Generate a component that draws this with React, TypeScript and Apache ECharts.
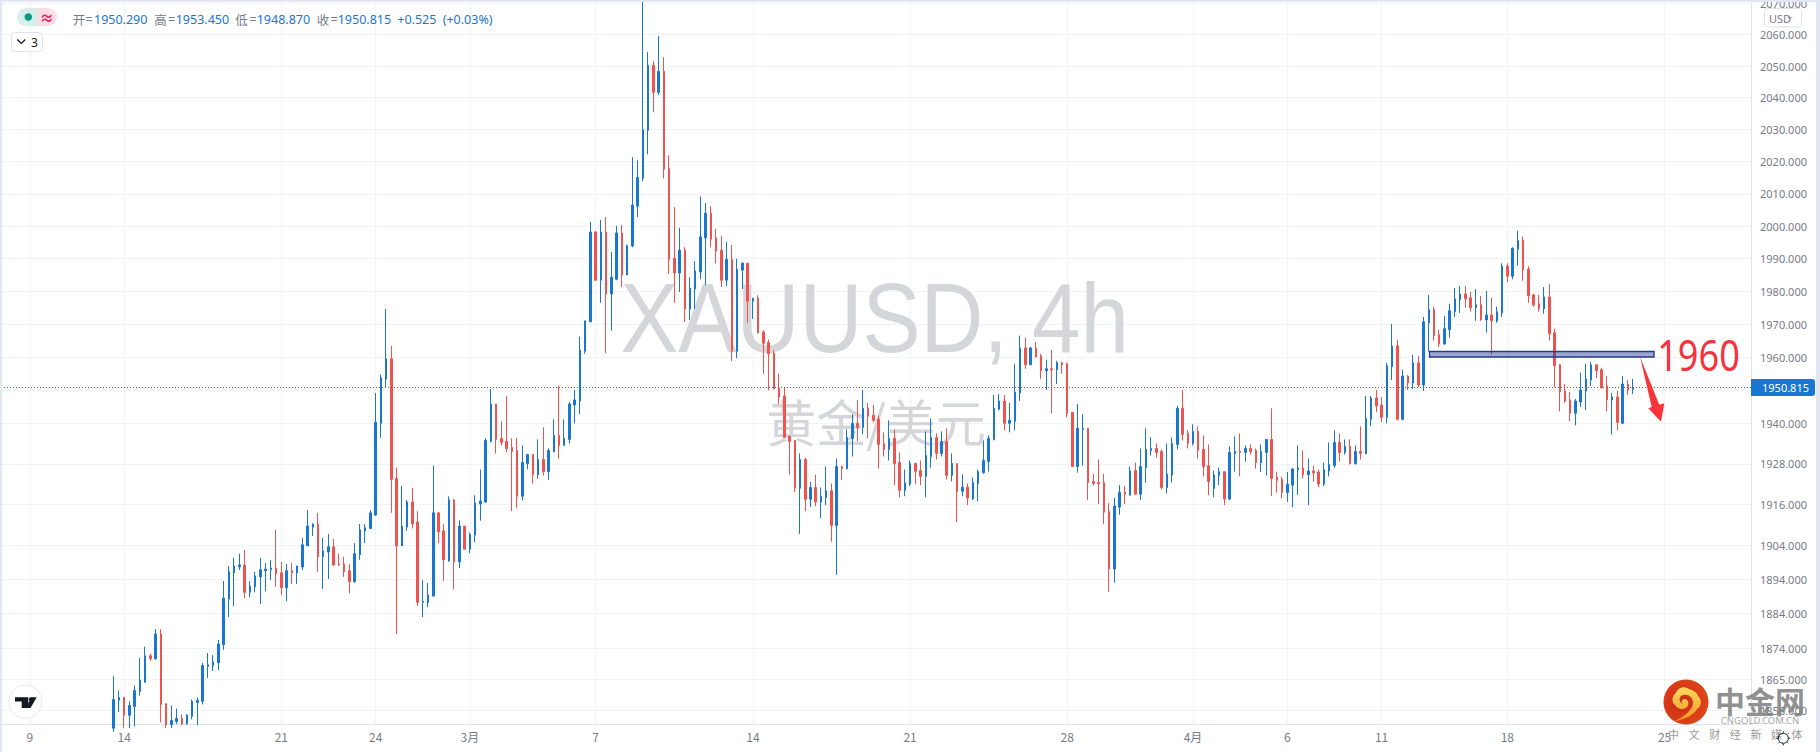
import React, { useEffect, useRef } from "react";
import * as echarts from "echarts";

// [open, close, low, high]
const candles: number[][] = [
[1851,1859.2,1850,1865.9],[1859,1859.8,1855.6,1861.8],[1859.8,1854.7,1851,1860],[1854.7,1857.5,1851,1858.7],[1857.2,1861.8,1851.5,1863.2],
[1861.5,1864.8,1860.3,1871.2],[1864.2,1871.8,1864,1874.4],[1871.8,1870.9,1870.4,1872.4],[1870.9,1878.1,1870.6,1879.5],[1878.1,1857.8,1852.7,1879.5],
[1858,1852,1851,1858],[1852,1853.2,1851,1857.5],[1852.9,1853.8,1852.2,1856.6],[1853.8,1852.3,1851.9,1855],[1852.3,1854.7,1851.9,1855],
[1854.4,1858.7,1853.5,1859.2],[1858.4,1859,1851.9,1859.8],[1858.7,1869,1857.8,1869.7],[1868.7,1869.2,1865.4,1872.6],[1869,1870,1867.4,1872],
[1869.8,1875.2,1867.7,1876.4],[1875,1888.5,1873.5,1893.5],[1888.2,1896.2,1883,1897.9],[1895.9,1897.9,1886.2,1900.3],[1897.6,1898.2,1896.7,1901.5],
[1898.2,1890.2,1888.5,1902.6],[1890.2,1892,1888.8,1893.5],[1891.8,1895,1890.2,1896.2],[1894.7,1896.8,1886.8,1900.3],[1896.5,1897,1890.5,1898.8],
[1896.8,1897.3,1893.8,1899.7],[1897.3,1895.6,1891.8,1908.5],[1895.9,1891.5,1889.5,1899.1],[1891.5,1896.5,1887.6,1898.5],[1896.5,1895.9,1892.6,1898.8],
[1895.9,1897.9,1892.6,1897.9],[1897.6,1904.1,1896.7,1906.1],[1903.8,1909.6,1903.8,1914.3],[1909.3,1910.2,1906.7,1910.4],[1910.2,1900.6,1896.2,1913.5],
[1900.6,1902.3,1891.2,1906.1],[1902,1903.5,1894.1,1907.3],[1903.5,1898.2,1897.9,1905.8],[1898.5,1898.2,1897.9,1901.5],[1898.5,1896.2,1894.7,1900.6],
[1896.5,1893.3,1889.9,1898.5],[1893.3,1901.5,1893,1904.6],[1901.2,1908.5,1899.7,1910.2],[1908.2,1909.1,1904.6,1910.2],[1908.9,1913.5,1908.9,1914.3],
[1912.9,1940.4,1912.6,1949.2],[1940.1,1953.8,1935.8,1954.7],[1953.4,1959.5,1950.9,1974.6],[1959.5,1923.4,1913.5,1963.4],[1923.7,1903.8,1878.1,1926.9],
[1903.8,1909.6,1903.8,1921.5],[1909.3,1916.7,1908.2,1917.3],[1916.7,1910.2,1908.9,1920.9],[1910.8,1887.3,1886.2,1914],[1887.3,1887.6,1883,1893.8],
[1887.3,1889.4,1885.9,1892.9],[1889.1,1913.5,1889.1,1927.5],[1913.5,1907.9,1904.6,1913.8],[1908.2,1899.7,1893.5,1910.2],[1899.4,1917.3,1899.1,1918.4],
[1917.3,1899.1,1891,1917.6],[1899.1,1909.6,1897.3,1911.3],[1909.6,1902.8,1902.8,1909.6],[1902.8,1907.1,1901.6,1907.7],[1907,1916.4,1904.9,1918.7],
[1916.1,1917,1911.2,1926.3],[1916.7,1935,1916.4,1935.6],[1934.7,1945.9,1934.4,1950.4],[1945.9,1935.3,1931.1,1945.9],[1935.6,1934.4,1933.5,1940.7],
[1934.7,1932.6,1931.4,1948.3],[1932.9,1931.7,1914,1935.6],[1932,1918.4,1914.9,1935.6],[1918.4,1928.4,1917.2,1933.5],[1928.1,1930.8,1926.4,1930.8],
[1930.8,1924.8,1922.2,1930.8],[1924.8,1929.3,1923.6,1935.3],[1929.3,1925.7,1924.6,1938.9],[1925.7,1932,1923.3,1932.6],[1931.7,1936.5,1931.4,1941.3],
[1936.5,1933.5,1929.6,1951.3],[1933.5,1935.6,1933.5,1941.3],[1935.3,1945.9,1934.1,1946.5],[1945.6,1947.1,1940.1,1950.1],[1946.8,1962.2,1942.8,1966.2],
[1961.8,1971,1961,1971],[1970.7,1998.2,1970.7,2001.3],[1998.2,1983.4,1983.4,1998.5],[1983.4,1998.2,1976.5,2001.9],[1998.2,1979.2,1961.2,2002.8],
[1979.2,1984.3,1968,1992],[1983.7,1997.9,1983.4,2000.1],[1997.9,1985,1981.3,2000.4],[1985,1994,1985,1994.3],[1993.9,2006.5,1993.5,2021.4],
[2006.2,2015.1,2002.8,2020.4],[2014.8,2030,2013.9,2071],[2029.8,2050.2,2022.3,2054.4],[2050.2,2041.7,2035.4,2051.5],[2041.7,2048.3,2040.8,2059.5],
[2048.3,2017.6,2014.8,2052.8],[2017.9,1989.8,1985.3,2022],[1990.1,1985.6,1976.5,2005.9],[1985.6,1992.6,1979.8,1999.5],[1992.6,1974.6,1970.7,1993.5],
[1974.6,1981,1971.3,1984.3],[1980.7,1986.2,1974.6,1989.2],[1985.9,1996.7,1983.7,2009.2],[1996.4,2004,1981.9,2007.1],[2004,1996,1993.5,2006.2],
[1996.4,1992.3,1988.5,1999.2],[1992.6,1983.4,1981.3,1997],[1983.4,1989.8,1981.6,1995.1],[1989.8,1961.8,1958.8,1994.2],[1961.8,1986.8,1959.7,1990],
[1986.5,1988.6,1980.7,1988.9],[1988.6,1977,1970.4,1988.6],[1977,1977.9,1971.6,1977.9],[1977.9,1967.3,1967.3,1978.8],[1967.6,1964.2,1955,1968.2],
[1964.4,1961,1950,1965.3],[1961.2,1950.4,1950.4,1962.1],[1950.7,1948,1945.9,1955],[1948.3,1935.9,1935.9,1950.7],[1936.2,1934.7,1924.8,1936.5],
[1935,1920.8,1919.6,1935],[1920.8,1929.3,1907.3,1931.1],[1929.3,1917.5,1914,1929.9],[1917.5,1921,1915.2,1922.7],[1921,1916.7,1915.5,1924.8],
[1916.7,1918.4,1911.9,1921],[1918,1920,1915.8,1927.2],[1920,1909.8,1905,1922.2],[1909.8,1927.2,1895.3,1929.6],[1927.2,1926.6,1923.3,1927.5],
[1926.6,1935.9,1926.4,1938.3],[1935.6,1940.1,1930.2,1942.8],[1940.1,1938.9,1934.7,1947.1],[1938.9,1944.6,1936.8,1950.1],[1944.6,1942.2,1935.6,1946.2],
[1942.5,1941,1940.4,1945.6],[1941.3,1933.8,1926.6,1942.4],[1934.1,1932.3,1930.2,1937.4],[1932.3,1935.6,1929,1941],[1935.6,1928.1,1921.7,1938.3],
[1928.4,1920.2,1918.1,1931.4],[1920.2,1922.3,1918.4,1926.3],[1922,1928.1,1921.4,1929],[1928.1,1925.8,1922,1928.4],[1926,1924.3,1921.7,1929],
[1924.3,1930.5,1918.1,1937.7],[1930.2,1935.9,1926.9,1941.6],[1935.9,1931.1,1929.3,1937.1],[1931.1,1934.7,1930.2,1937.7],[1934.7,1924.6,1923.4,1938.6],
[1924.6,1928.1,1922.8,1931.1],[1928.1,1919.9,1910.8,1928.1],[1919.9,1921.1,1918.4,1924.9],[1921.1,1917.9,1915.8,1922.2],[1917.6,1922.5,1917.3,1924],
[1922.2,1925.7,1916.9,1926.3],[1925.4,1929,1925.1,1935],[1928.7,1935.6,1925.7,1936.5],[1935.3,1944.6,1935,1948.6],[1944.3,1946.8,1944,1948.9],
[1946.8,1940.1,1938,1948.6],[1940.1,1941,1937.4,1946.2],[1940.7,1949.5,1938,1958],[1949.2,1962.8,1946.8,1966.5],[1962.8,1957.7,1956.5,1965.9],
[1957.7,1962.8,1957.7,1963.1],[1962.8,1960.1,1959.8,1964.6],[1960.4,1955.9,1953.4,1961],[1955.9,1956.5,1950.1,1959.2],[1956.5,1956.2,1943.1,1962.2],
[1956.2,1958.3,1951.9,1958.9],[1958.3,1957.7,1955,1958.6],[1958,1943.1,1941.9,1958.3],[1943.4,1927.2,1927.2,1943.4],[1927.2,1938.6,1925.4,1945.9],
[1938.3,1938.6,1927.5,1942.8],[1938.6,1922.5,1917.3,1938.6],[1922.8,1922.2,1921.6,1925],[1922.5,1922.2,1916.1,1929.3],[1922.5,1913.7,1910.2,1925],
[1913.9,1897,1890.3,1916.4],[1897,1915.5,1893,1917.9],[1915.2,1919.6,1912.9,1921.7],[1919.6,1919,1916.1,1921.4],[1918.7,1926,1918.7,1927.2],
[1926,1919,1919,1928.4],[1919,1927.2,1917.3,1932.6],[1926.9,1932.3,1922.4,1938.6],[1932,1932.6,1930.5,1935.9],[1932.6,1931.4,1929.9,1934.1],
[1931.7,1921,1920.4,1932.3],[1921,1925,1919.2,1934.1],[1924.7,1934.1,1922.4,1935.9],[1933.8,1944.6,1932.3,1945.3],[1944.6,1936.8,1935,1950.1],
[1937.1,1934.1,1932.6,1938],[1934.1,1937.7,1933.5,1939.8],[1937.7,1932,1929.6,1939.2],[1932.3,1927.2,1924.3,1936.5],[1927.5,1922.8,1918.7,1933.8],
[1920.7,1924.7,1918.1,1926],[1924.6,1925.7,1921.7,1926.9],[1925.7,1917.6,1915.8,1925.7],[1917.6,1931.4,1917.3,1933.2],[1931.1,1931.7,1925.7,1936.2],
[1931.7,1931.4,1924.3,1937.1],[1931.4,1932.6,1928.7,1933.5],[1932.6,1931.7,1930.8,1933.8],[1932,1928.4,1926.6,1932.6],[1928.4,1931.7,1925.6,1933.8],
[1931.4,1935.3,1924.5,1935.3],[1935.3,1923.7,1918.5,1944.6],[1924,1923.1,1919.5,1925.7],[1923.4,1919.5,1917.8,1924.2],[1919.5,1922,1916.7,1925.6],
[1921.7,1926.5,1915.2,1926.8],[1926.3,1926.8,1918.8,1933.5],[1926.8,1924.8,1923.7,1932],[1924.8,1925.9,1915.8,1929.6],[1925.9,1925.3,1922.7,1927.5],
[1925.6,1922,1921.1,1926.3],[1922,1926.3,1921.4,1928.4],[1925.9,1927.8,1924.3,1934.4],[1927.5,1934.4,1926.8,1938],[1934.4,1931.4,1928.7,1937.1],
[1931.4,1933.2,1930.8,1935.3],[1933.2,1928.1,1927.8,1935.3],[1928.1,1931.7,1927.8,1933.5],[1931.7,1931.1,1929.3,1939.2],[1931.1,1941.6,1930.8,1948.3],
[1941.3,1947.7,1939.2,1948.3],[1947.7,1945.3,1943.4,1950.1],[1945.6,1941.9,1940.4,1948],[1941.9,1957.4,1940.1,1958.3],[1957.1,1963.4,1953.1,1970.1],
[1963.4,1941.3,1941,1965.3],[1941.3,1954.3,1941,1956.2],[1954.3,1952.2,1950.1,1954.6],[1952.2,1958.3,1950.4,1960.7],[1958.3,1951.6,1951,1960.4],
[1951.6,1970.7,1949.8,1972.2],[1970.4,1974.4,1961.7,1978.9],[1974.4,1966.5,1965,1975.3],[1966.8,1964,1963.1,1968.3],[1964,1968.6,1963.7,1972.5],
[1968.3,1974.1,1965.9,1976.2],[1973.8,1977.7,1972.2,1981],[1977.4,1979.2,1973.4,1981.6],[1979.2,1977.7,1975,1981.6],[1978,1975,1973.8,1979.8],
[1975,1975.9,1971,1980.7],[1975.9,1971.3,1971,1978.6],[1971.3,1972.8,1967.4,1980.1],[1972.8,1971,1960.7,1978],[1971,1973.8,1970.4,1975.3],
[1973.4,1987.7,1972.2,1988.6],[1987.7,1984.6,1982.8,1988.6],[1984.6,1993.2,1983.7,1993.5],[1992.9,1995.6,1987.9,1998.6],[1995.6,1986.5,1983.2,1996.8],
[1986.8,1978.6,1976.5,1987.7],[1978.9,1975.9,1975.3,1979.2],[1976.2,1974.7,1973.8,1978.9],[1974.7,1978.3,1973.2,1981.3],[1978.3,1967.1,1965,1982.2],
[1967.4,1957.4,1951,1968.6],[1957.7,1949.5,1943.7,1958],[1949.8,1946.8,1946.2,1951.9],[1947.1,1943.1,1940.7,1949.5],[1943.1,1946.8,1939.5,1947.4],
[1946.5,1950.1,1945,1955.3],[1949.8,1953.4,1944.1,1958],[1953.1,1957.7,1951.3,1958.6],[1957.7,1955.9,1953.7,1957.7],[1956.2,1950.7,1950.7,1956.8],
[1951.3,1947.1,1943.7,1954.3],[1947.1,1948,1936.8,1949.2],[1948,1940.4,1938,1949.8],[1940.1,1951.9,1940.1,1954.3],[1951.9,1950.1,1948.6,1953.1],
[1950.29,1950.815,1948.87,1953.45],
];

const slotsBefore = 21;
const slotsTotal = 334;
const dateTicks: [number, string][] = [
  [5, "9"], [23, "14"], [53, "21"], [71, "24"], [89, "3月"], [113, "7"], [143, "14"],
  [173, "21"], [203, "28"], [227, "4月"], [245, "6"], [263, "11"], [287, "18"], [317, "25"],
];
const gridPrices = [2070, 2060, 2050, 2040, 2030, 2020, 2010, 2000, 1990, 1980, 1970, 1960, 1950, 1940, 1928, 1916, 1904, 1894, 1884, 1874, 1865, 1856];
const labelPrices = gridPrices.filter((p) => p !== 1950);
const lastPrice = 1950.815;
const priceMin = 1852.2;
const priceMax = 2072;
const legendItems: [number, string, string][] = [
  [72.7, "开", "#787b86"], [85.5, "=", "#787b86"], [94, "1950.290", "#1976d2"],
  [154.3, "高", "#787b86"], [168, "=", "#787b86"], [175.7, "1953.450", "#1976d2"],
  [235.3, "低", "#787b86"], [249.5, "=", "#787b86"], [256.7, "1948.870", "#1976d2"],
  [316.7, "收", "#787b86"], [330.5, "=", "#787b86"], [337.7, "1950.815", "#1976d2"],
  [397.3, "+0.525", "#1976d2"], [442.7, "(+0.03%)", "#1976d2"],
];
const sloganChars = ["中", "文", "财", "经", "新", "媒", "体"];

const UP = "#1976d2";
const DOWN = "#ef5350";
const GRID = "#f0f3fa";
const LINE = "#e0e3eb";
const TEXT = "#787b86";
const SANS = '"Noto Sans", "Noto Sans CJK SC", sans-serif';
const CJK = '"Noto Sans CJK SC", "Noto Sans", sans-serif';
// The chart canvas starts this far above the page, so the price scale can run past the page's top.
const BLEED = 10;

echarts.graphic.registerShape(
  "goldSwirl",
  echarts.graphic.extendPath(
    "M -12 19 C -2 18 8 13 11 7 C 16 4 16 -3 12 -6 C 11 -11 5 -12 1 -14 C -4 -16 -9 -13 -10 -9 C -14 -7 -15 0 -11 3 C -8 8 -2 8 1 5 C 4 2 2 -4 -2 -3 C -5 -2 -5 1 -3 2 C -6 1 -8 -3 -5 -6 C 0 -9 7 -6 7 1 C 7 8 -3 16 -12 19 Z",
    {}
  )
);

function buildOption() {
  const tickMap = new Map(dateTicks);
  const categories = Array.from({ length: slotsTotal }, (_, i) => tickMap.get(i) ?? "");
  const pad = Array.from({ length: slotsBefore }, () => ["-", "-", "-", "-"]);
  const isTick = (_: number, v: string) => v !== "";
  const text = (x: number, y: number, t: string, font: string, fill: string, z = 60, align = "left", extra: any = {}) => ({
    type: "text", x, y, z, silent: true, ...extra,
    style: { text: t, font, fill, align, verticalAlign: "middle" },
  });
  const elements: any[] = [
    text(874.6, 318, "XAUUSD, 4h", `98px "Liberation Sans", sans-serif`, "#d5d6da", 1, "center", { scaleX: 0.89 }),
    text(876, 420, "黄金/美元", `50px ${CJK}`, "#d5d6da", 1, "center"),
    // top-left status
    { type: "rect", z: 60, shape: { x: 17, y: 8, width: 20, height: 18, r: [9, 0, 0, 9] }, style: { fill: "#d6efea" } },
    { type: "rect", z: 60, shape: { x: 37, y: 8, width: 20, height: 18, r: [0, 9, 9, 0] }, style: { fill: "#fbdde6" } },
    { type: "circle", z: 61, shape: { cx: 28.3, cy: 17, r: 3.8 }, style: { fill: "#089981" } },
    text(46.7, 17, "≈", `bold 14px ${SANS}`, "#e91e63", 61, "center"),
    ...legendItems.map(([x, t, c]) => text(x, 19, t, `12.5px ${/[\u4e00-\u9fff]/.test(t) ? CJK : SANS}`, c)),
    { type: "rect", z: 60, shape: { x: 11.5, y: 32.5, width: 31, height: 19, r: 3 }, style: { fill: "#fff", stroke: LINE, lineWidth: 1 } },
    { type: "polyline", z: 61, shape: { points: [[17.3, 39.5], [21.3, 43.5], [25.3, 39.5]] }, style: { stroke: "#131722", lineWidth: 1.2, fill: "none" } },
    text(31, 42, "3", `12px ${SANS}`, "#131722", 61),
    // currency button
    { type: "rect", z: 60, shape: { x: 1764.5, y: 8.5, width: 37, height: 18.5, r: 3 }, style: { fill: "#fff", stroke: LINE, lineWidth: 1 } },
    text(1769, 18, "USD", `11px ${SANS}`, TEXT, 61),
    { type: "polyline", z: 61, shape: { points: [[1788, 16.7], [1790, 18.7], [1792, 16.7]] }, style: { stroke: TEXT, lineWidth: 1, fill: "none" } },
    // TV badge
    { type: "circle", z: 60, shape: { cx: 25.3, cy: 701.7, r: 16.5 }, style: { fill: "#fff", stroke: "#e6e8ee", lineWidth: 1 } },
    { type: "polygon", z: 61, shape: { points: [[15, 697.3], [28.3, 697.3], [28.3, 708], [21.7, 708], [21.7, 701.6], [15, 701.6]] }, style: { fill: "#131722" } },
    { type: "circle", z: 61, shape: { cx: 31, cy: 699.4, r: 2.1 }, style: { fill: "#131722" } },
    { type: "polygon", z: 61, shape: { points: [[31.5, 697.3], [36.7, 697.3], [30.5, 708], [25.5, 708]] }, style: { fill: "#131722" } },
    // analyst annotation
    { type: "rect", z: 50, shape: { x: 1429.5, y: 351.5, width: 224.5, height: 5.5 }, style: { fill: "rgba(40,60,140,0.45)", stroke: "#1f3c96", lineWidth: 1.3 } },
    { type: "polygon", z: 50, shape: { points: [[1640, 356.7], [1659.3, 404.8], [1664.3, 403.3], [1661, 421.7], [1648.3, 408.3], [1651.7, 407]] }, style: { fill: "#f9343a" } },
    text(1698.5, 355, "1960", `43px ${SANS}`, "#f5333f", 50, "center", { scaleX: 0.84 }),
    // publisher logo
    { type: "circle", z: 60, shape: { cx: 1686, cy: 702, r: 22.5 }, style: { fill: new echarts.graphic.RadialGradient(0.4, 0.5, 0.65, [{ offset: 0, color: "#c9281a" }, { offset: 1, color: "#e24a17" }]) } },
    { type: "goldSwirl", x: 1686, y: 702, z: 61, style: { fill: new echarts.graphic.LinearGradient(0, 0, 0, 1, [{ offset: 0, color: "#fdd962" }, { offset: 1, color: "#f2981e" }]) } },
    text(1760, 700, "中金网", `bold 30px ${CJK}`, "rgba(125,125,125,0.85)", 60, "center"),
    text(1760, 720.5, "CNGOLD.COM.CN", `9.5px ${SANS}`, "#a8a8a8", 60, "center"),
    ...sloganChars.map((c, i) => text(1673.5 + i * 20.6, 734, c, `11px ${CJK}`, "#9a9a9a", 60, "center")),
    // settings gear
    { type: "circle", z: 60, shape: { cx: 1783.3, cy: 738.3, r: 5 }, style: { fill: "none", stroke: "#131722", lineWidth: 1 } },
    ...[[0, -7, 0, -5.5], [0, 5.5, 0, 7], [-7, 0, -5.5, 0], [5.5, 0, 7, 0], [-5, -5, -4, -4], [4, -4, 5, -5], [-5, 5, -4, 4], [4, 4, 5, 5]].map(([a, b, c, d]) => ({
      type: "line", z: 60, shape: { x1: 1783.3 + a, y1: 738.3 + b, x2: 1783.3 + c, y2: 738.3 + d }, style: { stroke: "#131722", lineWidth: 1 },
    })),
    // page frame
    { type: "rect", z: 55, shape: { x: 0, y: 0, width: 1820, height: 2 }, style: { fill: "#e3e6f3" } },
    { type: "rect", z: 55, shape: { x: 0, y: 0, width: 2, height: 752 }, style: { fill: "#e3e6f3" } },
    { type: "rect", z: 55, shape: { x: 1816, y: 0, width: 4, height: 752 }, style: { fill: "#e3e6f3" } },
  ];

  return {
    animation: false,
    backgroundColor: "#fff",
    grid: { left: 1, top: BLEED - 3.2, width: 1750, height: 727.2, containLabel: false },
    xAxis: {
      type: "category",
      data: categories,
      boundaryGap: true,
      axisLine: { show: true, lineStyle: { color: LINE } },
      axisTick: { show: false, alignWithLabel: true, interval: isTick },
      axisLabel: { interval: isTick, color: TEXT, fontSize: 12, fontFamily: CJK, margin: 6, showMinLabel: true, showMaxLabel: true },
      splitLine: { show: true, alignWithLabel: true, interval: isTick, lineStyle: { color: GRID, width: 1 } },
    },
    yAxis: {
      type: "log",
      logBase: 10,
      position: "right",
      min: priceMin,
      max: priceMax,
      axisLine: { show: true, onZero: false, lineStyle: { color: LINE } },
      axisTick: { show: false, customValues: gridPrices },
      axisLabel: { customValues: labelPrices, color: TEXT, fontSize: 11, fontFamily: SANS, margin: 9, formatter: (v: number) => v.toFixed(3), showMinLabel: true, showMaxLabel: true, hideOverlap: false },
      splitLine: { show: true, customValues: gridPrices, lineStyle: { color: GRID, width: 1 } },
    },
    series: [
      {
        type: "candlestick",
        data: [...pad, ...candles],
        barWidth: 2,
        clip: true,
        itemStyle: { color: UP, color0: DOWN, borderColor: UP, borderColor0: DOWN, borderWidth: 1 },
        markLine: {
          silent: true,
          symbol: "none",
          animation: false,
          lineStyle: { color: UP, type: [1, 2], width: 1 },
          label: {
            show: true,
            position: "end",
            distance: 0,
            formatter: () => lastPrice.toFixed(3),
            color: "#fff",
            fontSize: 11,
            fontFamily: SANS,
            backgroundColor: UP,
            padding: [3, 6, 3, 11],
            borderRadius: [0, 3, 3, 0],
          },
          data: [{ yAxis: lastPrice }],
        },
      },
    ],
    graphic: { elements: elements.map((el) => ({ ...el, y: (el.y ?? 0) + BLEED })) },
  };
}

export default function App() {
  const ref = useRef<HTMLDivElement>(null);
  useEffect(() => {
    document.body.style.margin = "0";
    document.body.style.overflow = "hidden";
    const chart = echarts.init(ref.current!, undefined, { renderer: "svg" });
    chart.setOption(buildOption() as any);
    return () => chart.dispose();
  }, []);
  return (
    <div style={{ width: 1820, height: 752, overflow: "hidden", position: "relative" }}>
      <div ref={ref} style={{ position: "absolute", left: 0, top: -BLEED, width: 1820, height: 752 + BLEED }} />
    </div>
  );
}
